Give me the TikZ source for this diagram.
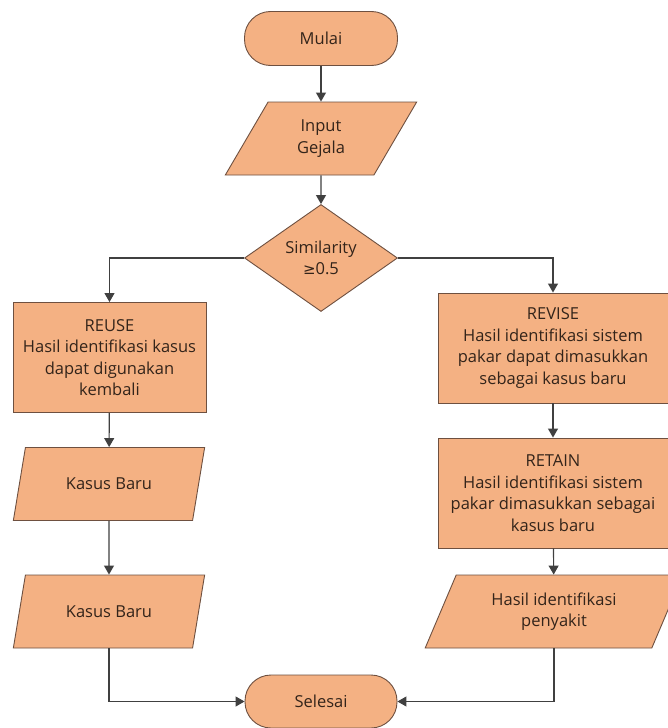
\documentclass[tikz,border=0pt]{standalone}
\usepackage{fontspec}
\setmainfont{Open Sans}
\newfontfamily\symfont{DejaVu Sans}
\usetikzlibrary{shapes.geometric,arrows.meta}
\definecolor{boxfill}{HTML}{F4B183}
\definecolor{boxline}{HTML}{6E5040}
\definecolor{conn}{HTML}{404040}
\definecolor{txt}{HTML}{33241A}
\tikzset{
  base/.style={draw=boxline, line width=0.9pt, fill=boxfill, text=txt, align=center,
    font=\fontsize{16.5}{21.5}\selectfont, inner sep=0pt},
  term/.style={base, rectangle, rounded corners=26pt, minimum width=153pt, minimum height=54pt},
  procbox/.style={base, rectangle, minimum height=110pt},
  iobox/.style={base, trapezium, trapezium left angle=62.5, trapezium right angle=117.5,
    trapezium stretches=true, minimum height=73pt},
  decision/.style={base, diamond, minimum width=153pt, minimum height=107pt},
  conn/.style={draw=conn, line width=1.1pt, -{Triangle[width=10pt,length=9pt]}},
  connline/.style={draw=conn, line width=1.1pt}
}
\begin{document}
\begin{tikzpicture}[x=1pt,y=-1pt]
\useasboundingbox (0,0) rectangle (667,728);
\fill[white] (0,0) rectangle (667,728);
\node[term] (mulai) at (321,38.5) {Mulai};
\node[iobox, minimum width=192pt] (input) at (321,138.5) {Input\\Gejala};
\node[decision] (sim) at (321,258) {Similarity\\{\symfont\fontsize{15}{21.5}\selectfont ≥}0.5};
\node[procbox, minimum width=193pt] (reuse) at (109.5,357.5) {REUSE\\Hasil identifikasi kasus\\dapat digunakan\\kembali};
\node[iobox, minimum width=192pt] (kb1) at (109,484) {Kasus Baru};
\node[iobox, minimum width=192pt] (kb2) at (109,611.5) {Kasus Baru};
\node[procbox, minimum width=230pt] (revise) at (553,348) {REVISE\\Hasil identifikasi sistem\\pakar dapat dimasukkan\\sebagai kasus baru};
\node[procbox, minimum width=230pt] (retain) at (553,493) {RETAIN\\Hasil identifikasi sistem\\pakar dimasukkan sebagai\\kasus baru};
\node[iobox, minimum width=258pt] (hasil) at (554,611.5) {Hasil identifikasi\\penyakit};
\node[term, minimum width=152pt, minimum height=53pt] (selesai) at (321,701.5) {Selesai};
\draw[conn] (mulai) -- (input);
\draw[conn] (input) -- (sim);
\draw[conn] (sim.west) -| (reuse.north);
\draw[conn] (sim.east) -| (revise.north);
\draw[conn] (reuse) -- (kb1);
\draw[conn] (kb1) -- (kb2);
\draw[conn] (kb2.south) |- (selesai.west);
\draw[conn] (revise) -- (retain);
\draw[conn] (retain) -- (hasil);
\draw[conn] (hasil.south) |- (selesai.east);
\end{tikzpicture}
\end{document}
